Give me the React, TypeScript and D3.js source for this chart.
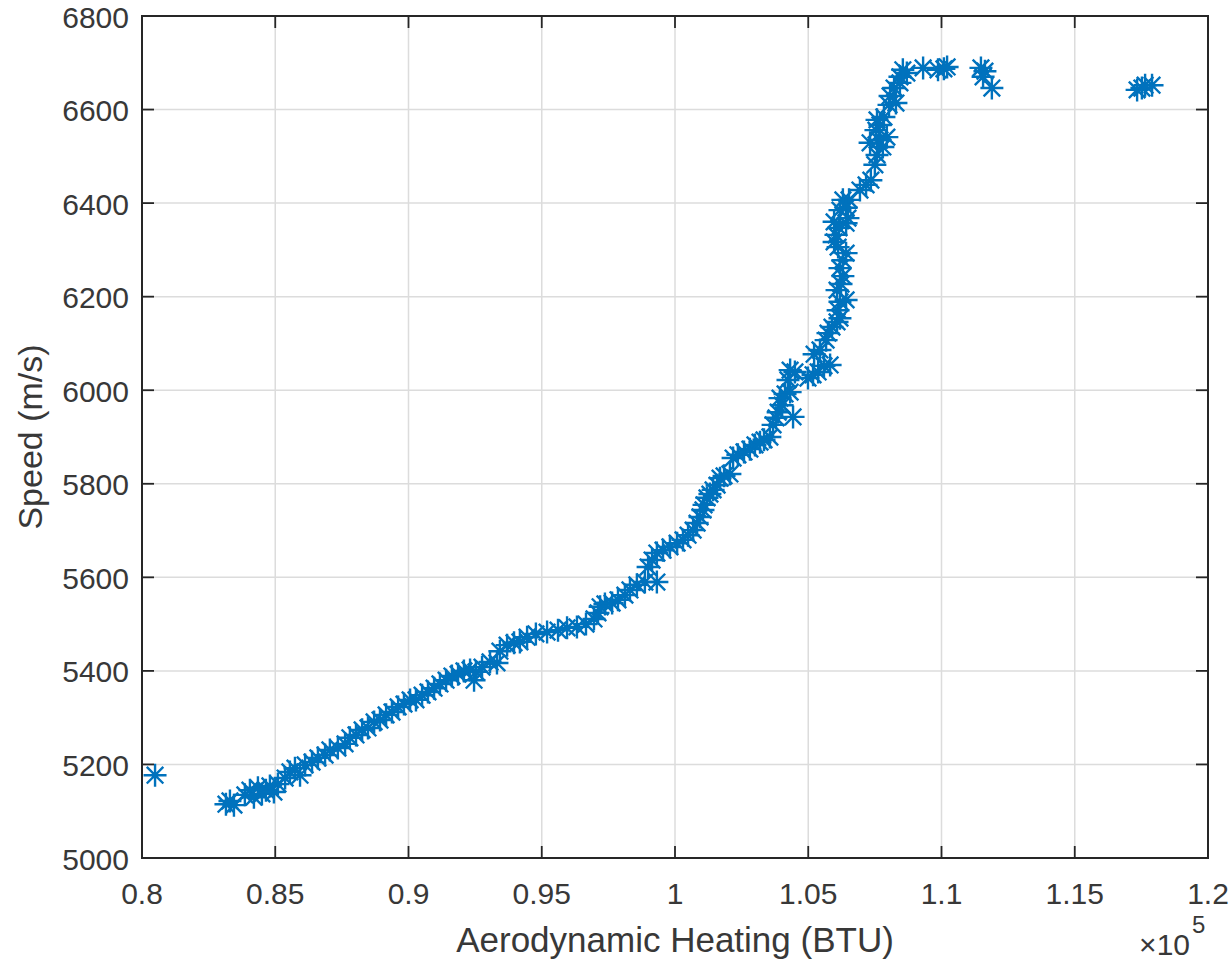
import React from 'react';
import * as d3 from 'd3';

// Aerodynamic heating (BTU) and speed (m/s)
const heating = [
  80490, 83150, 83300, 83450, 83860, 84050, 84200, 84350, 84500, 84650,
  84800, 84950, 85100, 85370, 85550, 85740, 85930, 86120, 86380, 86600,
  86870, 87050, 87350, 87620, 87800, 88030, 88260, 88480, 88710, 88930,
  89160, 89380, 89610, 89830, 90060, 90280, 90510, 90730, 90960, 91180,
  91410, 91630, 91860, 92080, 92310, 92530, 92460, 92760, 93060, 93320,
  93430, 93700, 93960, 94180, 94450, 94780, 95200, 95610, 95950, 96320,
  96660, 96960, 97110, 97190, 97370, 97640, 97860, 98120, 98310, 98570,
  98870, 99320, 98990, 99140, 99320, 99550, 99810, 100080, 100300, 100490,
  100680, 100830, 100940, 101050, 101090, 101200, 101310, 101430, 101580, 101690,
  101840, 102060, 102180, 102360, 102590, 102810, 103000, 103190, 103340, 103560,
  103680, 103790, 103870, 104020, 103940, 104130, 104320, 104430, 104240, 104320,
  104500, 104990, 105180, 105370, 105590, 105820, 105220, 105440, 105670, 105740,
  105890, 106080, 106190, 106120, 106190, 106420, 106080, 106230, 106300, 106190,
  106300, 106420, 106120, 105970, 106040, 106150, 106420, 105970, 106190, 106300,
  106530, 106420, 106490, 106940, 107170, 107350, 107500, 107580, 107320, 107650,
  107950, 107800, 107540, 107690, 107580, 107840, 108030, 108290, 108070, 108220,
  108440, 108440, 108700, 108550, 109310, 109870, 110090, 110210, 111480, 111630,
  111560, 111890, 117340, 117520, 117640, 117900,
];
const speed = [
  5177, 5115, 5122, 5113, 5135, 5145, 5130, 5150, 5137, 5145,
  5154, 5141, 5158, 5171, 5184, 5192, 5177, 5199, 5205, 5214,
  5220, 5231, 5235, 5244, 5257, 5263, 5274, 5278, 5291, 5295,
  5306, 5312, 5323, 5329, 5338, 5338, 5348, 5355, 5363, 5372,
  5380, 5389, 5393, 5400, 5402, 5398, 5380, 5408, 5419, 5417,
  5442, 5455, 5460, 5462, 5472, 5479, 5483, 5487, 5492, 5494,
  5500, 5511, 5524, 5537, 5543, 5545, 5552, 5562, 5573, 5584,
  5590, 5590, 5622, 5637, 5652, 5658, 5665, 5673, 5680, 5690,
  5701, 5716, 5729, 5744, 5755, 5770, 5778, 5787, 5797, 5812,
  5817, 5821, 5855, 5862, 5868, 5874, 5883, 5889, 5894, 5900,
  5926, 5941, 5953, 5968, 5983, 5992, 5996, 5943, 6022, 6043,
  6039, 6026, 6033, 6039, 6052, 6054, 6077, 6086, 6107, 6122,
  6135, 6146, 6154, 6171, 6189, 6193, 6214, 6227, 6244, 6261,
  6278, 6293, 6306, 6317, 6332, 6347, 6357, 6360, 6385, 6407,
  6407, 6390, 6368, 6428, 6439, 6449, 6482, 6503, 6529, 6535,
  6541, 6520, 6556, 6567, 6578, 6584, 6610, 6614, 6629, 6646,
  6657, 6670, 6678, 6685, 6689, 6685, 6687, 6691, 6689, 6682,
  6670, 6646, 6642, 6646, 6652, 6652,
];

const xTicks = [80000, 85000, 90000, 95000, 100000, 105000, 110000, 115000, 120000];
const xTickLabels = ['0.8', '0.85', '0.9', '0.95', '1', '1.05', '1.1', '1.15', '1.2'];
const yTicks = [5000, 5200, 5400, 5600, 5800, 6000, 6200, 6400, 6600, 6800];
const yTickLabels = ['5000', '5200', '5400', '5600', '5800', '6000', '6200', '6400', '6600', '6800'];

export default function App() {
  const W = 1232;
  const H = 964;
  const L = 142, R = 1208, T = 16, B = 858;
  const x = d3.scaleLinear().domain([80000, 120000]).range([L, R]);
  const y = d3.scaleLinear().domain([5000, 6800]).range([B, T]);
  const font = '"Liberation Sans", Arial, Helvetica, sans-serif';
  const axisColor = '#262626';
  const textColor = '#383838';
  const gridColor = '#dcdcdc';
  const tickLen = 12;
  const tickFs = 30;
  const labelFs = 35;
  const r = 11.5;
  const a = r * 0.72;
  const star = `M${-r},0H${r}M0,${-r}V${r}M${-a},${-a}L${a},${a}M${-a},${a}L${a},${-a}`;

  return (
    <svg width={W} height={H} style={{ position: 'absolute', left: 0, top: 0, background: '#fff' }}
      fontFamily={font}>
      <rect x={0} y={0} width={W} height={H} fill="#fff" />
      {/* grid */}
      {xTicks.map((t, i) => (
        <line key={'gx' + i} x1={x(t)} x2={x(t)} y1={T} y2={B} stroke={gridColor} strokeWidth={1.5} />
      ))}
      {yTicks.map((t, i) => (
        <line key={'gy' + i} x1={L} x2={R} y1={y(t)} y2={y(t)} stroke={gridColor} strokeWidth={1.5} />
      ))}
      {/* data */}
      <g stroke="#0072BD" strokeWidth={2.4} fill="none" strokeLinecap="butt">
        {heating.map((h, i) => (
          <path key={'p' + i} d={star} transform={`translate(${x(h)},${y(speed[i])})`} />
        ))}
      </g>
      {/* ticks */}
      <g stroke={axisColor} strokeWidth={1.8}>
        {xTicks.map((t, i) => (
          <g key={'tx' + i}>
            <line x1={x(t)} x2={x(t)} y1={B} y2={B - tickLen} />
            <line x1={x(t)} x2={x(t)} y1={T} y2={T + tickLen} />
          </g>
        ))}
        {yTicks.map((t, i) => (
          <g key={'ty' + i}>
            <line x1={L} x2={L + tickLen} y1={y(t)} y2={y(t)} />
            <line x1={R} x2={R - tickLen} y1={y(t)} y2={y(t)} />
          </g>
        ))}
      </g>
      <rect x={L} y={T} width={R - L} height={B - T} fill="none" stroke={axisColor} strokeWidth={2} />
      {/* tick labels */}
      <g fill={textColor} fontSize={tickFs}>
        {xTicks.map((t, i) => (
          <text key={'lx' + i} x={x(t)} y={B + 46} textAnchor="middle">{xTickLabels[i]}</text>
        ))}
        {yTicks.map((t, i) => (
          <text key={'ly' + i} x={L - 13} y={y(t) + 1} textAnchor="end" dominantBaseline="central">{yTickLabels[i]}</text>
        ))}
      </g>
      {/* exponent */}
      <text x={1190} y={955} fill={textColor} fontSize={tickFs} textAnchor="end">×10</text>
      <text x={1192} y={933} fill={textColor} fontSize={tickFs * 0.8} textAnchor="start">5</text>
      {/* axis labels */}
      <text x={(L + R) / 2} y={952} fill={textColor} fontSize={labelFs} textAnchor="middle">
        Aerodynamic Heating (BTU)
      </text>
      <text transform={`translate(42,${(T + B) / 2}) rotate(-90)`} fill={textColor} fontSize={labelFs - 1}
        textAnchor="middle">
        Speed (m/s)
      </text>
    </svg>
  );
}
